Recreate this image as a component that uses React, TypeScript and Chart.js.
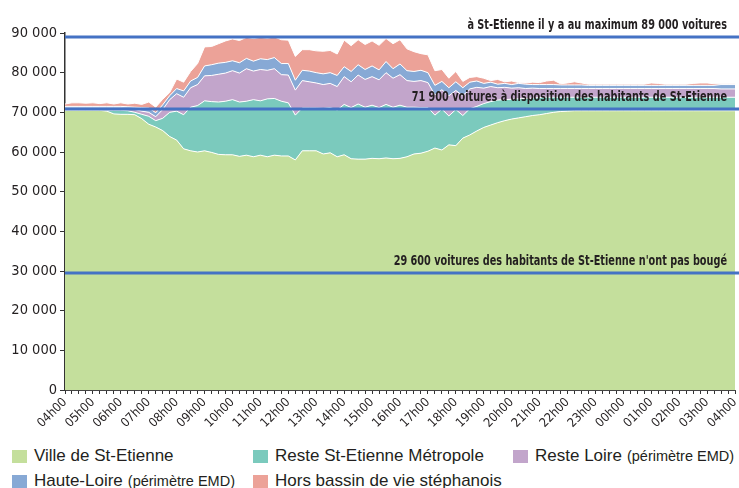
import React, { useEffect, useRef } from 'react';
import { Chart, registerables } from 'chart.js';

Chart.register(...registerables);

// ---------- categories (15-minute steps, 04h00 -> 04h00) ----------
const HOUR_LABELS = ['04h00','05h00','06h00','07h00','08h00','09h00','10h00','11h00','12h00','13h00','14h00','15h00','16h00','17h00','18h00','19h00','20h00','21h00','22h00','23h00','00h00','01h00','02h00','03h00','04h00'];
const QUARTER_SUFFIXES = ['00', '15', '30', '45'];
const TIME_LABELS: string[] = [];
HOUR_LABELS.slice(0, 24).forEach((h) => QUARTER_SUFFIXES.forEach((q) => TIME_LABELS.push(h.slice(0, 3) + q)));
TIME_LABELS.push(HOUR_LABELS[24]);

// ---------- series (cars present in Saint-Etienne, by origin) ----------
const VILLE = [
  70500,70500,70500,70500,70500,70500,70300,69600,69500,69500,
  69400,68400,67000,66300,65400,63900,63000,60800,60300,60000,
  60300,59900,59400,59300,59300,58900,59200,58800,59200,58800,
  59200,59000,59000,58000,60300,60300,60300,59500,59800,58800,
  59300,58300,58200,58200,58400,58300,58500,58300,58400,58800,
  59500,59700,60200,61000,60500,61800,61600,63500,64300,65300,
  66200,66800,67400,67900,68300,68600,68900,69200,69400,69700,
  70000,70200,70300,70400,70400,70400,70400,70400,70400,70400,
  70400,70400,70400,70400,70400,70400,70400,70400,70400,70400,
  70400,70400,70400,70400,70400,70400,70400,
];
const METROPOLE = [
  100,100,100,100,100,100,200,900,1000,900,
  600,1100,2000,1600,3100,6100,7300,8600,11000,11700,
  12600,12800,13200,13500,13900,13700,13600,14400,13700,14600,
  14300,13800,13400,11300,10800,10800,10800,11500,11400,11800,
  12700,12900,13900,13100,13400,12900,13500,13000,13400,12500,
  11800,11500,11000,8300,10300,7300,9100,5700,6600,6200,
  6000,5900,5700,5300,5000,4800,4600,4400,4300,4100,
  3800,3600,3500,3400,3400,3400,3400,3400,3400,3400,
  3400,3400,3400,3400,3400,3400,3400,3400,3400,3400,
  3400,3400,3400,3400,3400,3400,3400,
];
const RESTE_LOIRE = [
  500,500,500,500,500,500,600,600,600,600,
  700,800,1000,1000,2200,3200,4400,4400,4900,5300,
  6300,6600,7000,7100,7300,7300,8200,7200,7900,7200,
  7500,6700,7000,6300,6900,6600,6300,6000,6100,5900,
  7000,6500,7300,7000,7200,7000,8000,7300,7700,6700,
  6500,6800,6300,5100,4900,5100,4800,5000,5000,4800,
  3900,3800,3100,3100,2800,2800,2500,2500,2300,2200,
  2200,2200,2200,2200,2200,2200,2200,2200,2200,2200,
  2200,2200,2200,2200,2200,2200,2200,2200,2200,2200,
  2200,2200,2200,2200,2100,2100,2100,
];
const HAUTE_LOIRE = [
  400,400,400,400,400,400,400,400,400,400,
  600,900,1100,1000,1200,1000,1300,1600,1700,1800,
  2500,2700,2800,2700,2500,2600,2600,2500,2700,2700,
  2800,2800,2900,2500,2600,2700,2600,2700,2700,2800,
  2500,2600,2600,2500,2700,2500,2800,2400,2700,2500,
  2500,2600,2500,2400,2100,2000,2200,2000,1700,1600,
  1200,1100,900,1000,900,1100,1100,900,1000,1000,
  1000,900,900,900,900,800,800,800,800,800,
  800,800,800,800,800,800,800,800,800,800,
  800,800,800,800,1100,1100,1100,
];
const HORS_BASSIN = [
  600,900,900,800,900,700,900,600,900,700,
  1000,800,1500,1400,1400,800,2400,2200,2400,3500,
  4800,4600,4900,5400,5500,5600,5300,5700,5400,5400,
  5200,6000,5900,6000,5200,5400,5500,5700,5600,5400,
  6700,6500,6300,6300,6300,6200,5800,6300,6100,5500,
  5000,4200,4500,3700,3000,2400,2600,1600,1200,1100,
  1300,400,1200,400,900,200,300,600,500,900,
  1100,300,500,800,500,300,300,300,300,300,
  300,300,300,300,600,500,300,300,300,300,
  500,600,600,400,200,200,200,
];

const SERIES_NAMES = ['Ville de St-Etienne', 'Reste St-Etienne Métropole', 'Reste Loire', 'Haute-Loire', 'Hors bassin de vie stéphanois'];
const SERIES_NOTES = ['', '', '(périmètre EMD)', '(périmètre EMD)', ''];
const SERIES_COLORS = ['#c4df9c', '#7bcabd', '#c2a5cb', '#87a9d5', '#eca298'];

// ---------- reference lines ----------
const REF_VALUES = [89000, 70900, 29600];
const REF_LABELS = [
  'à St-Etienne il y a au maximum 89 000 voitures',
  '71 900 voitures à disposition des habitants de St-Etienne',
  "29 600 voitures des habitants de St-Etienne n'ont pas bougé",
];

const Y_MIN = 0;
const Y_MAX = 90000;
const Y_STEP = 10000;

const NARROW = '"Liberation Sans Narrow", "DejaVu Sans Condensed", "Liberation Sans", sans-serif';
const REGULAR = '"Liberation Sans", Arial, sans-serif';

const fmt = (v: number) => String(v).replace(/\B(?=(\d{3})+(?!\d))/g, ' ');

const refLinesPlugin = {
  id: 'refLines',
  afterDatasetsDraw(chart: any) {
    const { ctx, chartArea, scales } = chart;
    ctx.save();
    REF_VALUES.forEach((v, k) => {
      const py = Math.round(scales.y.getPixelForValue(v));
      ctx.strokeStyle = '#4472c4';
      ctx.lineWidth = 3;
      ctx.beginPath();
      ctx.moveTo(chartArea.left, py);
      ctx.lineTo(chart.width, py);
      ctx.stroke();
      ctx.save();
      ctx.fillStyle = '#231f20';
      ctx.font = `bold 13.5px ${NARROW}`;
      ctx.textAlign = 'right';
      ctx.textBaseline = 'alphabetic';
      ctx.translate(chart.width - 12, py - 8);
      ctx.scale(0.8, 1);
      ctx.fillText(REF_LABELS[k], 0, 0);
      ctx.restore();
    });
    ctx.restore();
  },
};

const LEGEND_POS = [
  [12, 449], [253, 449], [513, 449],
  [12, 474], [253, 474],
];

export default function App() {
  const ref = useRef<HTMLCanvasElement | null>(null);

  useEffect(() => {
    if (!ref.current) return;
    const values = [VILLE, METROPOLE, RESTE_LOIRE, HAUTE_LOIRE, HORS_BASSIN];
    const chart = new Chart(ref.current, {
      type: 'line',
      data: {
        labels: TIME_LABELS,
        datasets: values.map((d, k) => ({
          label: SERIES_NAMES[k],
          data: d,
          backgroundColor: SERIES_COLORS[k],
          borderColor: '#ffffff',
          borderWidth: 1,
          pointRadius: 0,
          tension: 0,
          fill: k === 0 ? 'origin' : '-1',
        })),
      },
      options: {
        animation: false,
        responsive: false,
        maintainAspectRatio: false,
        layout: { padding: { top: 33, right: 4, left: 0, bottom: 0 } },
        plugins: { legend: { display: false }, tooltip: { enabled: false } },
        scales: {
          x: {
            type: 'category',
            offset: false,
            grid: { display: true, drawOnChartArea: false, drawTicks: true, tickLength: 4, tickColor: '#333', tickWidth: 1 },
            border: { display: true, color: '#444', width: 1 },
            ticks: {
              autoSkip: false,
              minRotation: 45,
              maxRotation: 45,
              padding: 1,
              color: '#231f20',
              font: { family: NARROW, size: 12.5 },
              callback: (_v: any, i: number) => (i % 4 === 0 ? HOUR_LABELS[i / 4] : ''),
            },
            afterFit: (s: any) => { s.height = 50; s.paddingLeft = 0; s.paddingRight = 0; },
          },
          y: {
            stacked: true,
            min: Y_MIN,
            max: Y_MAX,
            grid: { display: true, drawOnChartArea: false, drawTicks: true, tickLength: 5, tickColor: '#333' },
            border: { display: true, color: '#333', width: 1.5 },
            ticks: {
              stepSize: Y_STEP,
              padding: 3,
              color: '#231f20',
              font: { family: NARROW, size: 14.5 },
              callback: (v: any) => fmt(Number(v)),
            },
            afterFit: (s: any) => { s.width = 65; },
          },
        },
      },
      plugins: [refLinesPlugin],
    } as any);
    return () => chart.destroy();
  }, []);

  return (
    <div style={{ position: 'absolute', left: 0, top: 0, width: 739, height: 488, background: '#fff', overflow: 'hidden' }}>
      <canvas ref={ref} width={739} height={440} style={{ position: 'absolute', left: 0, top: 0, width: 739, height: 440 }} />
      {SERIES_NAMES.map((name, k) => (
        <div
          key={name}
          style={{
            position: 'absolute',
            left: LEGEND_POS[k][0],
            top: LEGEND_POS[k][1] - 4,
            height: 22,
            display: 'flex',
            alignItems: 'center',
            whiteSpace: 'nowrap',
            fontFamily: REGULAR,
            color: '#231f20',
          }}
        >
          <span style={{ display: 'inline-block', width: 15, height: 13, background: SERIES_COLORS[k], marginRight: 7 }} />
          <span style={{ fontSize: 17 }}>{name}</span>
          {SERIES_NOTES[k] && <span style={{ fontSize: 14.5, marginLeft: 5 }}>{SERIES_NOTES[k]}</span>}
        </div>
      ))}
    </div>
  );
}
